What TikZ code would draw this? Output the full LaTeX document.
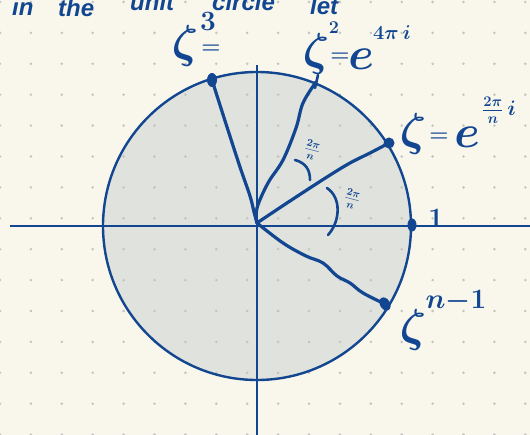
\RequirePackage{fix-cm}
\documentclass[tikz,border=0pt]{standalone}
\usepackage{fontspec}
\setsansfont{Liberation Sans}
\definecolor{ink}{RGB}{18,70,145}
\definecolor{paper}{RGB}{249,247,236}
\definecolor{disk}{RGB}{223,226,221}
\definecolor{dotc}{RGB}{196,196,190}
\begin{document}
\begin{tikzpicture}[x=1pt,y=-1pt,
  axis/.style={draw=ink,line width=1.8pt},
  ray/.style={draw=ink,line width=3.2pt,line cap=round,line join=round},
  arcmark/.style={draw=ink,line width=2.6pt,line cap=round},
  lab/.style={text=ink,inner sep=0pt},
  big/.style={lab,font=\fontsize{46}{46}\selectfont\boldmath},
  mid/.style={lab,font=\fontsize{28}{28}\selectfont\boldmath},
  eq/.style={lab,font=\fontsize{22}{22}\selectfont\boldmath},
  small/.style={lab,font=\fontsize{15}{15}\selectfont\boldmath},
  hand/.style={lab,font=\fontsize{24}{24}\selectfont\sffamily\bfseries\itshape,anchor=base west}]
\useasboundingbox (0,0) rectangle (530,435);
\fill[paper] (0,0) rectangle (530,435);
\clip (0,0) rectangle (530,435);
% disk
\coordinate (C) at (257,226);
\fill[disk] (C) circle (154pt);
% dot grid
\foreach \i in {0,...,17}{\foreach \j in {0,...,14}{\fill[dotc] (30.9*\i,2+30.9*\j) circle (1.4pt);}}
% axes
\coordinate (xl) at (10,226); \coordinate (xr) at (530,226);
\coordinate (yt) at (257,65); \coordinate (yb) at (257,435);
\draw[axis] (xl) -- (xr);
\draw[axis] (yt) -- (yb);
% circle
\draw[ink,line width=2.4pt] (C) circle (154pt);
% points
\coordinate (O) at (257,223);
\coordinate (Z3) at (212,80);
\coordinate (Z2) at (316,82);
\coordinate (Z1) at (389,143);
\coordinate (One) at (412,225);
\coordinate (Zn) at (385,304);
% rays
\draw[ray] plot[smooth,tension=0.6] coordinates {(O) (254,212) (250,196) (240,167) (227,127) (Z3)};
\draw[ray] plot[smooth,tension=0.6] coordinates {(O) (257,208) (268,183) (283,160) (296,128) (303,103) (Z2)};
\draw[ray] plot[smooth,tension=0.6] coordinates {(O) (290,201) (327,177) (350,163) (370,153) (Z1)};
\draw[ray] plot[smooth,tension=0.6] coordinates {(O) (283,243) (306,256) (323,263) (337,276) (350,283) (363,293) (Zn)};
% endpoint marks
\fill[ink] (Z3) ellipse (5pt and 7pt);
\fill[ink] (Z1) circle (5.5pt);
\fill[ink] (One) ellipse (4.5pt and 6.5pt);
\fill[ink,rotate around={30:(Zn)}] (Zn) ellipse (5pt and 7pt);
\coordinate (t1) at (318,75); \coordinate (t2) at (315,88);
\draw[ink,line width=2.6pt,line cap=round] (t1) -- (t2);
% angle marks
\coordinate (a1s) at (295,160); \coordinate (a1e) at (310,180);
\draw[arcmark] (a1s) .. controls (306,163) and (310,170) .. (a1e);
\coordinate (a2s) at (327,188); \coordinate (a2e) at (328,235);
\draw[arcmark] (a2s) .. controls (342,198) and (340,222) .. (a2e);
\node[small,rotate=-15] (f1) at (312,150) {$\frac{2\pi}{n}$};
\node[small,rotate=-15] (f2) at (352,199) {$\frac{2\pi}{n}$};
% labels
\node[big] (l3z) at (185,46) {$\zeta$};
\node[mid] (l3e) at (208,21) {$3$};
\node[eq] (l3q) at (211,49) {$=$};
\node[big] (l2z) at (316,54) {$\zeta$};
\node[lab,font=\fontsize{18}{18}\selectfont\boldmath] (l2e) at (334,28) {$2$};
\node[eq] (l2q) at (340,57) {$=$};
\node[big] (l2b) at (361,59) {$e$};
\node[lab,font=\fontsize{20}{20}\selectfont\boldmath] (l2x) at (392,33) {$4\pi\, i$};
\node[big] (l1z) at (413,134) {$\zeta$};
\node[eq] (l1q) at (439,137) {$=$};
\node[big] (l1b) at (467,137) {$e$};
\node[lab,font=\fontsize{21}{21}\selectfont\boldmath] (l1x) at (499,110) {$\frac{2\pi}{n}\,i$};
\node[mid] (l0) at (436,218) {$1$};
\node[big] (lnz) at (413,330) {$\zeta$};
\node[lab,font=\fontsize{28}{28}\selectfont\boldmath] (lnx) at (456,301) {$n{-}1$};
% top text (clipped at the top edge, as in the reference)
\node[hand] (w1) at (12,16) {in};
\node[hand] (w2) at (58,17) {the};
\node[hand] (w3) at (130,11) {unit};
\node[hand] (w4) at (212,11) {circle};
\node[hand] (w5) at (310,15) {let};
\end{tikzpicture}
\end{document}
